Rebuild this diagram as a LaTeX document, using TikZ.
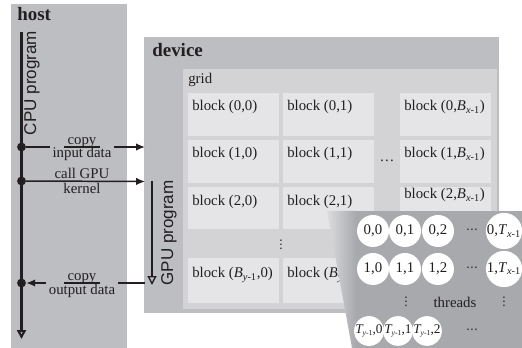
\documentclass[tikz,border=0pt]{standalone}
\usepackage{fontspec}
\setmainfont{Liberation Serif}
\setsansfont{Liberation Sans}
\newfontfamily\symfont{DejaVu Sans}
\usepackage{xcolor}
\usepackage{tikz}
\usetikzlibrary{arrows.meta}

\definecolor{hostgray}{HTML}{BDBEC2}
\definecolor{gridgray}{HTML}{D3D3D5}
\definecolor{blockgray}{HTML}{E5E5E7}
\definecolor{panelgray}{HTML}{A8A9AD}
\definecolor{inkgray}{HTML}{231F20}

\newcommand{\Bxm}{\textit{B}\textsubscript{\textit{x}-1}}
\newcommand{\Bym}{\textit{B}\textsubscript{\textit{y}-1}}
\newcommand{\Txm}{\textit{T}\textsubscript{\textit{x}-1}}
\newcommand{\Tym}{\textit{T}\kern-0.6pt\raisebox{-0.3ex}{\fontsize{5.2}{6}\selectfont\textit{y}-1}}

\tikzset{
  title/.style={anchor=base west, inner sep=0pt, font=\bfseries\fontsize{12.8}{14}\selectfont},
  blocklabel/.style={anchor=base west, inner sep=0pt, font=\fontsize{10}{12}\selectfont},
  flowlabel/.style={anchor=base, inner sep=0pt, font=\fontsize{10}{12}\selectfont},
  proglabel/.style={rotate=90, inner sep=0pt, font=\sffamily\fontsize{11.5}{13}\selectfont},
  dotslabel/.style={inner sep=0pt, font=\symfont\fontsize{8}{9}\selectfont},
  thread/.style={circle, fill=white, inner sep=0pt, minimum size=21.6pt, font=\fontsize{10}{12}\selectfont},
  lastthread/.style={thread, minimum size=19.8pt, font=\fontsize{9}{10}\selectfont},
  event/.style={circle, fill=inkgray, inner sep=0pt, minimum size=6pt},
  flow/.style={line width=1pt, ->},
  timeline/.style={-{Triangle[open, length=6pt, width=6pt]}}
}

\begin{document}
\begin{tikzpicture}[x=0.675pt, y=-0.675pt, >={Latex[length=6pt, width=5pt]}, color=inkgray]
\useasboundingbox (0,0) rectangle (522,348);

% Host panel
\fill[hostgray] (11,4) rectangle (127,348);
\node[title] (host) at (17,21) {host};

% Device panel and grid
\fill[hostgray] (144,37) rectangle (499,313);
\node[title] (device) at (152,56.5) {device};
\fill[gridgray] (183,69) rectangle (497,309);
\node[blocklabel] (grid) at (188,84) {grid};

% Blocks: left x / top y / height / text offset / label
\foreach \x/\y/\h/\d/\lbl [count=\i] in {
    188/93/43/18/{block (0,0)}, 283/93/43/18/{block (0,1)}, 400/93/43/18/{block (0,\Bxm)},
    188/140/43/18/{block (1,0)}, 283/140/43/18/{block (1,1)}, 400/140/43/18/{block (1,\Bxm)},
    188/187/42/19/{block (2,0)}, 283/187/42/19/{block (2,1)}, 400/187/42/12/{block (2,\Bxm)},
    188/258/45/20/{block (\Bym,0)}} {
  \fill[blockgray] (\x,\y) rectangle ++(91,\h);
  \node[blocklabel] (blk\i) at (\x+4,\y+\d) {\lbl};
}
% last row, second column: only its left part shows
\fill[blockgray] (283,258) rectangle ++(91,45);
\begin{scope}
  \clip (283,250) -- (333,250) -- (345,310) -- (283,310) -- cycle;
  \node[blocklabel] (blk11) at (287,278) {block (\Bym,1)};
\end{scope}
\node[inner sep=0pt, font=\fontsize{10}{12}\selectfont] (hdots) at (387,161) {\dots};
\node[dotslabel] (vdots) at (281,245) {⋮};

% Zoom onto one block
\shade[left color=gridgray!80, right color=panelgray] (327,211) -- (356,211) -- (356,348) -- (352,348) -- cycle;
\fill[panelgray] (356,211) rectangle (522,348);

% Threads
\foreach \x/\y/\lbl [count=\i] in {
    373/231/{0,0}, 405/231/{0,1}, 438/231/{0,2}, 504/231/{0,\Txm},
    373/269/{1,0}, 405/269/{1,1}, 438/269/{1,2}, 504/269/{1,\Txm}} {
  \node[thread] (thr\i) at (\x,\y) {\lbl};
}
\foreach \x/\lbl [count=\i] in {369/{\Tym,0}, 398/{\Tym,1}, 427/{\Tym,2}} {
  \node[lastthread] (thrlast\i) at (\x,331) {\lbl};
}
\foreach \y [count=\i] in {231, 269, 331} {
  \node[dotslabel] (tdots\i) at (472,\y) {⋯};
}
\node[dotslabel] (tvdots1) at (406,302) {⋮};
\node[dotslabel] (tvdots2) at (504,302) {⋮};
\node[inner sep=0pt, font=\fontsize{10}{12}\selectfont] (threads) at (455,302) {threads};

% CPU program
\coordinate (cputop) at (21.5,32);
\coordinate (cpuend) at (21.5,339);
\draw[line width=1.4pt, timeline] (cputop) -- (cpuend);
\node[proglabel] (cpu) at (32,83) {CPU program};
\node[event] (ein) at (21.5,147) {};
\node[event] (ecall) at (21.5,181) {};
\node[event] (eout) at (21.5,283) {};

% GPU program
\coordinate (gputop) at (152,181);
\coordinate (gpuend) at (152,285);
\draw[line width=0.9pt, timeline] (gputop) -- (gpuend);
\node[proglabel] (gpu) at (169,233) {GPU program};

% Copy input data
\coordinate (devin) at (145,147);
\draw[flow] (ein) -- (devin);
\node[flowlabel, fill=hostgray, inner xsep=2pt, text height=12pt, text depth=2.5pt] (inputdata) at (82,158) {input data};
\node[flowlabel, inner xsep=2pt] (copyin) at (82,144.5) {copy};
\draw[line width=1pt] (copyin.west |- ein) -- (copyin.east |- ein);

% Call GPU kernel
\coordinate (devcall) at (145,181.5);
\draw[flow] (ecall) -- (devcall);
\node[flowlabel] (callgpu) at (82,179) {call GPU};
\node[flowlabel] (kernel) at (82,194) {kernel};

% Copy output data
\coordinate (devout) at (145,283);
\draw[flow] (devout) -- (eout);
\node[flowlabel, fill=hostgray, inner xsep=2pt, text height=12pt, text depth=2.5pt] (outputdata) at (82,295) {output data};
\node[flowlabel, inner xsep=2pt] (copyout) at (82,280.5) {copy};
\draw[line width=1pt] (copyout.west |- eout) -- (copyout.east |- eout);

\end{tikzpicture}
\end{document}
